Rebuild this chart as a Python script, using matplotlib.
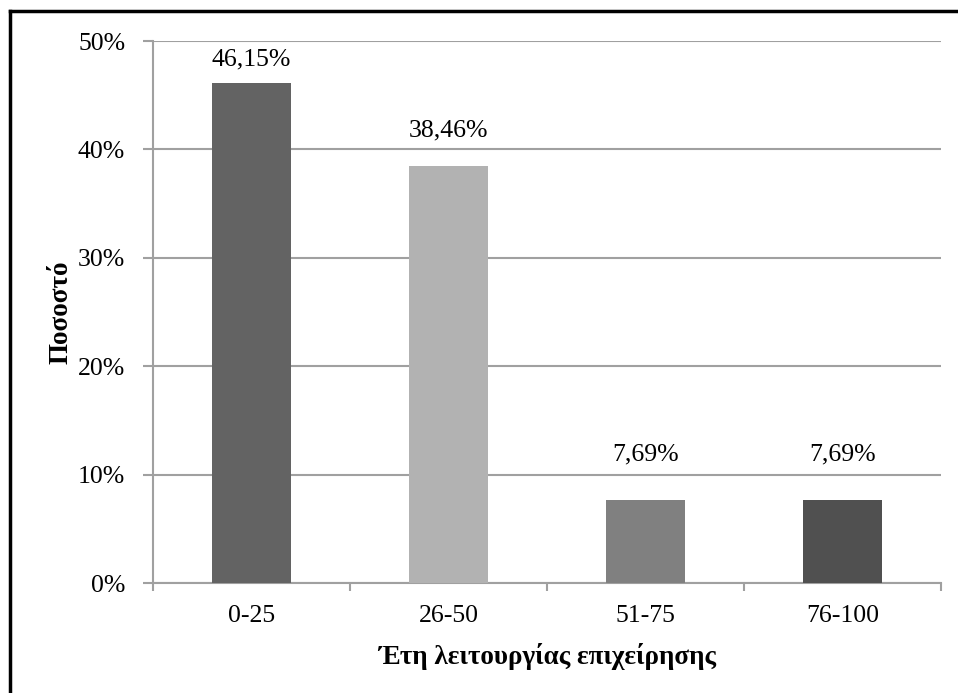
import matplotlib
matplotlib.use('Agg')
import matplotlib.pyplot as plt
from matplotlib.lines import Line2D
from matplotlib.ticker import FuncFormatter, FixedLocator, NullFormatter

categories = ['0-25', '26-50', '51-75', '76-100']
values = [46.15, 38.46, 7.69, 7.69]
labels = ['46,15%', '38,46%', '7,69%', '7,69%']
bar_colors = ['#636363', '#b2b2b2', '#808080', '#505050']
label_gap = [12, 25, 34, 34]  # pixels between bar top and label

plt.rcParams['font.family'] = ['Liberation Serif', 'DejaVu Serif']

fig = plt.figure(figsize=(9.58, 6.93), dpi=100)
W, H = 958, 693
ax = fig.add_axes([153 / W, 1 - 583 / H, (941 - 153) / W, (583 - 41) / H])

x = range(len(categories))
ax.bar(x, values, width=0.406, color=bar_colors, zorder=3)
ax.set_xlim(-0.5, len(categories) - 0.5)
ax.set_ylim(0, 50)

ax.set_yticks([0, 10, 20, 30, 40, 50])
ax.yaxis.set_major_formatter(FuncFormatter(lambda v, p: f'{v:.0f}%'))
ax.grid(axis='y', color='#a0a0a0', linewidth=1.5, zorder=0)

ax.set_xticks(list(x))
ax.set_xticklabels(categories)
ax.tick_params(axis='x', which='major', length=0, labelsize=18.5, pad=16)
ax.xaxis.set_minor_locator(FixedLocator([i - 0.5 for i in range(len(categories) + 1)]))
ax.xaxis.set_minor_formatter(NullFormatter())
ax.tick_params(axis='x', which='minor', length=6, width=1.5, color='#a0a0a0')
ax.tick_params(axis='y', length=7, width=1.5, color='#a0a0a0', labelsize=18.5, pad=13)

for s in ['top', 'right']:
    ax.spines[s].set_visible(False)
for s in ['left', 'bottom']:
    ax.spines[s].set_color('#a0a0a0')
    ax.spines[s].set_linewidth(1.5)

for i, (v, t) in enumerate(zip(values, labels)):
    ax.annotate(t, (i, v), xytext=(0, label_gap[i] * 0.72), textcoords='offset points',
                ha='center', va='bottom', fontsize=18.5)

ax.set_ylabel('Ποσοστό', fontsize=19.5, fontweight='bold', labelpad=3)
ax.set_xlabel('Έτη λειτουργίας επιχείρησης', fontsize=19.5, fontweight='bold', labelpad=11)

# outer frame (left and top edges visible)
fig.add_artist(Line2D([10 / W, 10 / W], [0, 1 - 11 / H], color='black', linewidth=2.5))
fig.add_artist(Line2D([10 / W, 1], [1 - 11 / H, 1 - 11 / H], color='black', linewidth=2.5))

fig.savefig('out.png', dpi=100)
